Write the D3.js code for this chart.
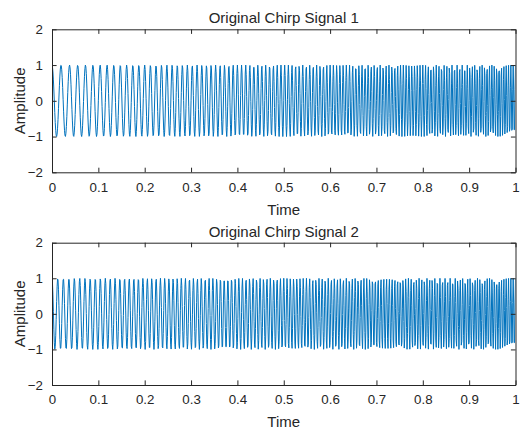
<!DOCTYPE html>
<html><head><meta charset="utf-8">
<script src="https://cdn.jsdelivr.net/npm/d3@7"></script>
<style>body{margin:0;background:#fff}svg{display:block}text{font-family:"Liberation Sans",Arial,sans-serif;fill:#262626}</style>
</head><body>
<script>
const titles = ["Original Chirp Signal 1", "Original Chirp Signal 2"];
const startFreqHz = [50, 80];     // instantaneous frequency at t = 0
const endFreqHz = [200, 200];     // instantaneous frequency at t = 1
const sampleRateHz = 1000;
const durationS = 1;
const xTicks = [0, 0.1, 0.2, 0.3, 0.4, 0.5, 0.6, 0.7, 0.8, 0.9, 1];
const yTicks = [-2, -1, 0, 1, 2];
const xLabel = "Time", yLabel = "Amplitude";

function chirpSamples(k) {
  const n = Math.round(sampleRateHz * durationS);
  const rate = (endFreqHz[k] - startFreqHz[k]) / durationS;
  const out = [];
  for (let i = 0; i <= n; i++) {
    const t = i / sampleRateHz;
    out.push({t, v: Math.cos(2 * Math.PI * (startFreqHz[k] * t + rate / 2 * t * t))});
  }
  return out;
}

const W = 524, H = 430;
const svg = d3.select("body").append("svg").attr("width", W).attr("height", H);
const panels = [{top: 29.3, bottom: 172.3}, {top: 242.7, bottom: 385}];
const left = 52, right = 515.5;
const axisCol = "#262626";

panels.forEach((p, k) => {
  const x = d3.scaleLinear().domain([0, 1]).range([left, right]);
  const y = d3.scaleLinear().domain([-2, 2]).range([p.bottom, p.top]);
  const g = svg.append("g");
  const clipId = "clip" + k;
  svg.append("clipPath").attr("id", clipId).append("rect")
    .attr("x", left).attr("y", p.top).attr("width", right - left).attr("height", p.bottom - p.top);

  const data = chirpSamples(k);
  g.append("path").datum(data)
    .attr("clip-path", `url(#${clipId})`)
    .attr("fill", "none").attr("stroke", "#0072BD").attr("stroke-width", 1)
    .attr("stroke-linejoin", "round")
    .attr("d", d3.line().x(d => x(d.t)).y(d => y(d.v)));

  // axes with inward ticks, box
  const tl = 4.6;
  const bottomAxis = d3.axisBottom(x).tickValues(xTicks).tickSizeInner(-tl).tickSizeOuter(0).tickPadding(10)
    .tickFormat(d => d3.format("~g")(d));
  const leftAxis = d3.axisLeft(y).tickValues(yTicks).tickSizeInner(-tl).tickSizeOuter(0).tickPadding(9)
    .tickFormat(d3.format("d"));
  const topAxis = d3.axisTop(x).tickValues(xTicks).tickSizeInner(-tl).tickSizeOuter(0).tickFormat("");
  const rightAxis = d3.axisRight(y).tickValues(yTicks).tickSizeInner(-tl).tickSizeOuter(0).tickFormat("");

  const styleAxis = sel => {
    sel.selectAll("path.domain").attr("stroke", axisCol).attr("stroke-width", 1);
    sel.selectAll(".tick line").attr("stroke", axisCol).attr("stroke-width", 1);
    sel.selectAll(".tick text").attr("fill", axisCol).style("font-size", "13.3px")
      .style("font-family", '"Liberation Sans",Arial,sans-serif');
  };
  g.append("g").attr("transform", `translate(0,${p.bottom})`).call(bottomAxis).call(styleAxis);
  g.append("g").attr("transform", `translate(${left},0)`).call(leftAxis).call(styleAxis);
  g.append("g").attr("transform", `translate(0,${p.top})`).call(topAxis).call(styleAxis);
  g.append("g").attr("transform", `translate(${right},0)`).call(rightAxis).call(styleAxis);

  // title & labels
  g.append("text").attr("x", (left + right) / 2).attr("y", p.top - 6)
    .attr("text-anchor", "middle").style("font-size", "15px").text(titles[k]);
  g.append("text").attr("x", (left + right) / 2).attr("y", p.bottom + 42.2)
    .attr("text-anchor", "middle").style("font-size", "15px").text(xLabel);
  g.append("text").attr("transform", `translate(25,${(p.top + p.bottom) / 2}) rotate(-90)`)
    .attr("text-anchor", "middle").style("font-size", "15px").text(yLabel);
});
</script>
</body></html>
